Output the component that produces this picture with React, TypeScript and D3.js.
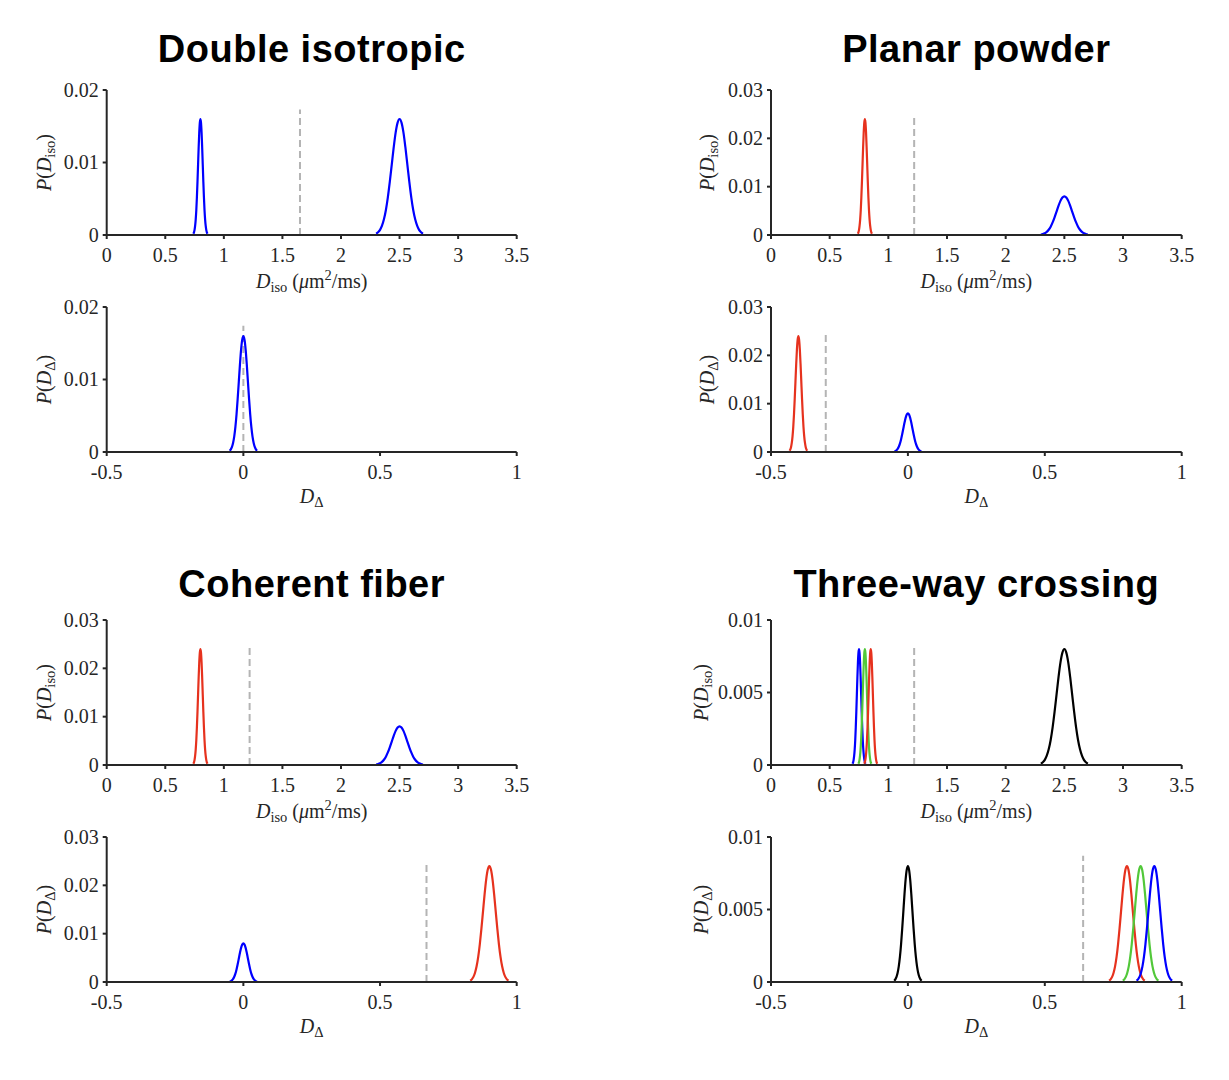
import React from "react";
import * as d3 from "d3";

// ---------- data ----------
const TITLES = ["Double isotropic", "Planar powder", "Coherent fiber", "Three-way crossing"];

const ISO_XTICKS = [0, 0.5, 1, 1.5, 2, 2.5, 3, 3.5];
const DELTA_XTICKS = [-0.5, 0, 0.5, 1];

const ISO_YMAX = [0.02, 0.03, 0.03, 0.01];
const ISO_YTICKS = [
  [0, 0.01, 0.02],
  [0, 0.01, 0.02, 0.03],
  [0, 0.01, 0.02, 0.03],
  [0, 0.005, 0.01],
];
const DELTA_YMAX = [0.02, 0.03, 0.03, 0.01];
const DELTA_YTICKS = ISO_YTICKS;

// relative peak profile: [offset as fraction of half-width, relative height]
const PROFILE: [number, number][] = [
  [-1, 0.011], [-0.917, 0.023], [-0.833, 0.044], [-0.75, 0.08], [-0.667, 0.135],
  [-0.583, 0.216], [-0.5, 0.325], [-0.417, 0.458], [-0.333, 0.607], [-0.25, 0.755],
  [-0.167, 0.883], [-0.083, 0.969], [0, 1], [0.083, 0.969], [0.167, 0.883],
  [0.25, 0.755], [0.333, 0.607], [0.417, 0.458], [0.5, 0.325], [0.583, 0.216],
  [0.667, 0.135], [0.75, 0.08], [0.833, 0.044], [0.917, 0.023], [1, 0.011],
];

type Peak = { c: number; w: number; h: number; k: string };

// peaks: centre, half-width, height, colour key
const ISO_PEAKS: Peak[][] = [
  [
    { c: 0.8, w: 0.06, h: 0.016, k: "b" },
    { c: 2.5, w: 0.2, h: 0.016, k: "b" },
  ],
  [
    { c: 0.8, w: 0.06, h: 0.024, k: "r" },
    { c: 2.5, w: 0.2, h: 0.008, k: "b" },
  ],
  [
    { c: 0.8, w: 0.06, h: 0.024, k: "r" },
    { c: 2.5, w: 0.2, h: 0.008, k: "b" },
  ],
  [
    { c: 0.75, w: 0.055, h: 0.008, k: "b" },
    { c: 0.8, w: 0.055, h: 0.008, k: "g" },
    { c: 0.85, w: 0.055, h: 0.008, k: "r" },
    { c: 2.5, w: 0.2, h: 0.008, k: "k" },
  ],
];

const DELTA_PEAKS: Peak[][] = [
  [{ c: 0, w: 0.05, h: 0.016, k: "b" }],
  [
    { c: -0.4, w: 0.032, h: 0.024, k: "r" },
    { c: 0, w: 0.05, h: 0.008, k: "b" },
  ],
  [
    { c: 0, w: 0.05, h: 0.008, k: "b" },
    { c: 0.9, w: 0.07, h: 0.024, k: "r" },
  ],
  [
    { c: 0, w: 0.05, h: 0.008, k: "k" },
    { c: 0.8, w: 0.065, h: 0.008, k: "r" },
    { c: 0.85, w: 0.065, h: 0.008, k: "g" },
    { c: 0.9, w: 0.065, h: 0.008, k: "b" },
  ],
];

// dashed threshold lines: x position and top value
const ISO_DASH_X = [1.65, 1.22, 1.22, 1.22];
const ISO_DASH_TOP = [0.0173, 0.0246, 0.0247, 0.0083];
const DELTA_DASH_X = [0, -0.3, 0.67, 0.64];
const DELTA_DASH_TOP = [0.0174, 0.025, 0.025, 0.0087];

// ---------- styles / layout ----------
const COLORS: Record<string, string> = {
  b: "#0000ff",
  r: "#e6321e",
  g: "#52c83a",
  k: "#000000",
};
const AXIS = "#262626";
const SERIF = "'Liberation Serif', 'DejaVu Serif', serif";
const SANS = "'Liberation Sans', Arial, Helvetica, sans-serif";
const FS = 20;
const SUB = 14.5;

const COL_X = [
  [106.7, 516.7],
  [771, 1181.7],
];
const ROW_Y = [
  { iso: [90, 235], del: [307, 452], title: 62 },
  { iso: [620, 765], del: [837, 982], title: 597 },
];
const YLAB_OFF = [56, 57, 56, 63];

function fmt(v: number) {
  return String(+v.toFixed(4));
}

function Axes({ x0, x1, yTop, yBot, xs, ys, xticks, yticks }: any) {
  return (
    <g>
      <line x1={x0} x2={x0} y1={yTop} y2={yBot} stroke={AXIS} strokeWidth={2} />
      <line x1={x0} x2={x1} y1={yBot} y2={yBot} stroke={AXIS} strokeWidth={2} />
      {xticks.map((t: number) => (
        <g key={"x" + t}>
          <line x1={xs(t)} x2={xs(t)} y1={yBot} y2={yBot + 4} stroke={AXIS} strokeWidth={2} />
          <text x={xs(t)} y={yBot + 27} textAnchor="middle" fontFamily={SERIF} fontSize={FS} fill="#262626">
            {fmt(t)}
          </text>
        </g>
      ))}
      {yticks.map((t: number) => (
        <g key={"y" + t}>
          <line x1={x0 - 4} x2={x0} y1={ys(t)} y2={ys(t)} stroke={AXIS} strokeWidth={2} />
          <text x={x0 - 8} y={ys(t) + 6.5} textAnchor="end" fontFamily={SERIF} fontSize={FS} fill="#262626">
            {fmt(t)}
          </text>
        </g>
      ))}
    </g>
  );
}

function Panel({ idx, kind }: { idx: number; kind: "iso" | "del" }) {
  const col = idx % 2;
  const row = Math.floor(idx / 2);
  const [x0, x1] = COL_X[col];
  const [yTop, yBot] = ROW_Y[row][kind];
  const isIso = kind === "iso";
  const xs = d3
    .scaleLinear()
    .domain(isIso ? [0, 3.5] : [-0.5, 1])
    .range([x0, x1]);
  const ys = d3
    .scaleLinear()
    .domain([0, isIso ? ISO_YMAX[idx] : DELTA_YMAX[idx]])
    .range([yBot, yTop]);
  const peaks = isIso ? ISO_PEAKS[idx] : DELTA_PEAKS[idx];
  const line = d3
    .line<[number, number]>()
    .x((d) => xs(d[0]))
    .y((d) => ys(d[1]))
    .curve(d3.curveMonotoneX);
  const dx = isIso ? ISO_DASH_X[idx] : DELTA_DASH_X[idx];
  const dt = isIso ? ISO_DASH_TOP[idx] : DELTA_DASH_TOP[idx];
  const cx = (x0 + x1) / 2;
  const cy = (yTop + yBot) / 2;
  const ylx = x0 - YLAB_OFF[idx];
  return (
    <g>
      <line
        x1={xs(dx)}
        x2={xs(dx)}
        y1={ys(0)}
        y2={ys(dt)}
        stroke="#b4b4b4"
        strokeWidth={2}
        strokeDasharray="7 4"
      />
      {peaks.map((p, i) => (
        <path
          key={i}
          d={line(PROFILE.map(([o, r]) => [p.c + o * p.w, p.h * r]) as [number, number][]) || ""}
          fill="none"
          stroke={COLORS[p.k]}
          strokeWidth={2.2}
        />
      ))}
      <Axes
        x0={x0}
        x1={x1}
        yTop={yTop}
        yBot={yBot}
        xs={xs}
        ys={ys}
        xticks={isIso ? ISO_XTICKS : DELTA_XTICKS}
        yticks={isIso ? ISO_YTICKS[idx] : DELTA_YTICKS[idx]}
      />
      {isIso ? (
        <text x={cx} y={yBot + 53} textAnchor="middle" fontFamily={SERIF} fontSize={FS} fill="#262626">
          <tspan fontStyle="italic">D</tspan>
          <tspan fontSize={SUB} dy={4}>iso</tspan>
          <tspan dy={-4}>{" ("}</tspan>
          <tspan fontStyle="italic">μ</tspan>
          <tspan>m</tspan>
          <tspan fontSize={SUB} dy={-8}>2</tspan>
          <tspan dy={8}>/ms)</tspan>
        </text>
      ) : (
        <text x={cx} y={yBot + 51} textAnchor="middle" fontFamily={SERIF} fontSize={FS} fill="#262626">
          <tspan fontStyle="italic">D</tspan>
          <tspan fontSize={SUB} dy={4}>Δ</tspan>
        </text>
      )}
      <text
        transform={`translate(${ylx},${cy}) rotate(-90)`}
        textAnchor="middle"
        fontFamily={SERIF}
        fontSize={FS}
        fill="#262626"
      >
        <tspan fontStyle="italic">P</tspan>
        <tspan>(</tspan>
        <tspan fontStyle="italic">D</tspan>
        <tspan fontSize={SUB} dy={4}>{isIso ? "iso" : "Δ"}</tspan>
        <tspan dy={-4}>)</tspan>
      </text>
    </g>
  );
}

export default function App() {
  return (
    <svg
      width={1229}
      height={1080}
      style={{ position: "absolute", left: 0, top: 0, background: "#fff" }}
    >
      <rect width={1229} height={1080} fill="#fff" />
      {TITLES.map((t, i) => {
        const col = i % 2;
        const row = Math.floor(i / 2);
        const [x0, x1] = COL_X[col];
        return (
          <g key={t}>
            <text
              x={(x0 + x1) / 2}
              y={ROW_Y[row].title}
              textAnchor="middle"
              fontFamily={SANS}
              fontWeight="bold"
              fontSize={38}
              letterSpacing={0.5}
              fill="#000"
            >
              {t}
            </text>
            <Panel idx={i} kind="iso" />
            <Panel idx={i} kind="del" />
          </g>
        );
      })}
    </svg>
  );
}
